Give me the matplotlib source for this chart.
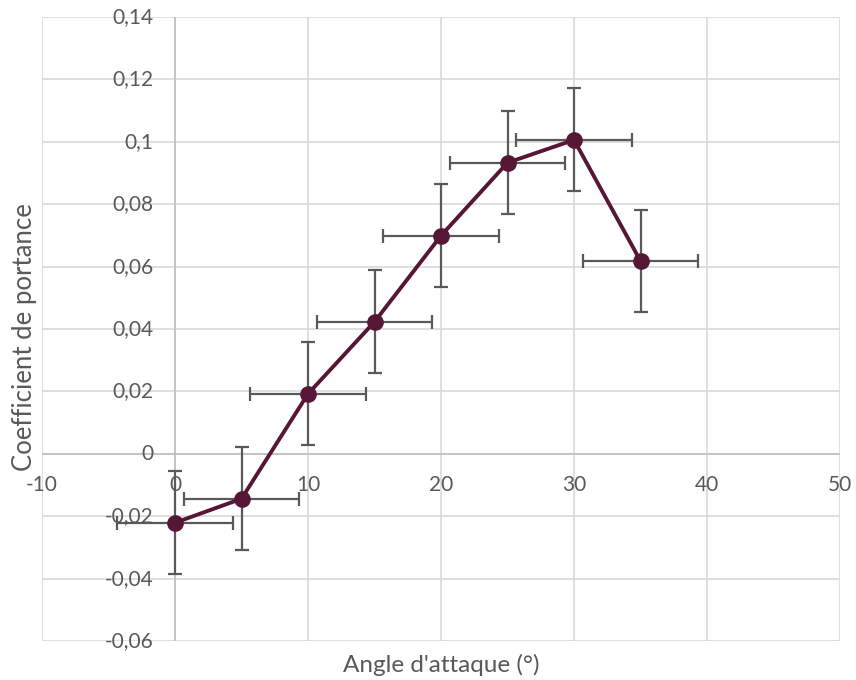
import numpy as np
import matplotlib.pyplot as plt

# --- data -------------------------------------------------------------
angle = [0, 5, 10, 15, 20, 25, 30, 35]
cl = [-0.0221, -0.0144, 0.0192, 0.0423, 0.0699, 0.0933, 0.1006, 0.0618]
x_err = [4.35, 4.35, 4.35, 4.35, 4.35, 4.35, 4.35, 4.35]
y_err = [0.0165, 0.0165, 0.0165, 0.0165, 0.0165, 0.0165, 0.0165, 0.0165]

x_ticks = [-10, 0, 10, 20, 30, 40, 50]
y_ticks = [-0.06, -0.04, -0.02, 0, 0.02, 0.04, 0.06, 0.08, 0.1, 0.12, 0.14]

plt.rcParams['font.family'] = ['Lato', 'DejaVu Sans']
text_col = "#595959"
grid_col = "#d9d9d9"

fig = plt.figure(figsize=(8.56, 6.8), dpi=100)
ax = fig.add_axes([42 / 856, 1 - 641 / 680, (840 - 42) / 856, (641 - 17) / 680])

ax.set_xlim(-10, 50)
ax.set_ylim(-0.06, 0.14)

# grid instead of spines (Excel style)
for s in ax.spines.values():
    s.set_visible(False)
for xv in x_ticks:
    ax.axvline(xv, color=grid_col, lw=1.2, zorder=0)
for yv in y_ticks:
    ax.axhline(yv, color=grid_col, lw=1.2, zorder=0)
ax.axvline(0, color="#bfbfbf", lw=1.2, zorder=0.5)
ax.axhline(0, color="#bfbfbf", lw=1.2, zorder=0.5)

ax.set_xticks([])
ax.set_yticks([])

# tick labels next to the crossing axes
def fr(v):
    s = f"{v:.2f}".rstrip("0").rstrip(".")
    if s == "-0":
        s = "0"
    return s.replace(".", ",")

for yv in y_ticks:
    ax.text(-1.65, yv, fr(yv), ha="right", va="center", fontsize=15, color=text_col)
for xv in x_ticks:
    ax.text(xv, -0.0099, str(xv), ha="center", va="center", fontsize=15, color=text_col)

ax.errorbar(angle, cl, xerr=x_err, yerr=y_err, fmt="none", ecolor="#595959",
            elinewidth=1.6, capsize=5, capthick=1.6, zorder=2)
ax.plot(angle, cl, "-o", color="#561737", lw=2.8, ms=11, zorder=3)

fig.text(441 / 856, 1 - 665 / 680, "Angle d'attaque (°)", ha="center", va="center",
         fontsize=17.5, color=text_col)
fig.text(25 / 856, 1 - 337 / 680, "Coefficient de portance", ha="center", va="center",
         rotation=90, fontsize=18.5, color=text_col)

fig.savefig("out.png", dpi=100)
